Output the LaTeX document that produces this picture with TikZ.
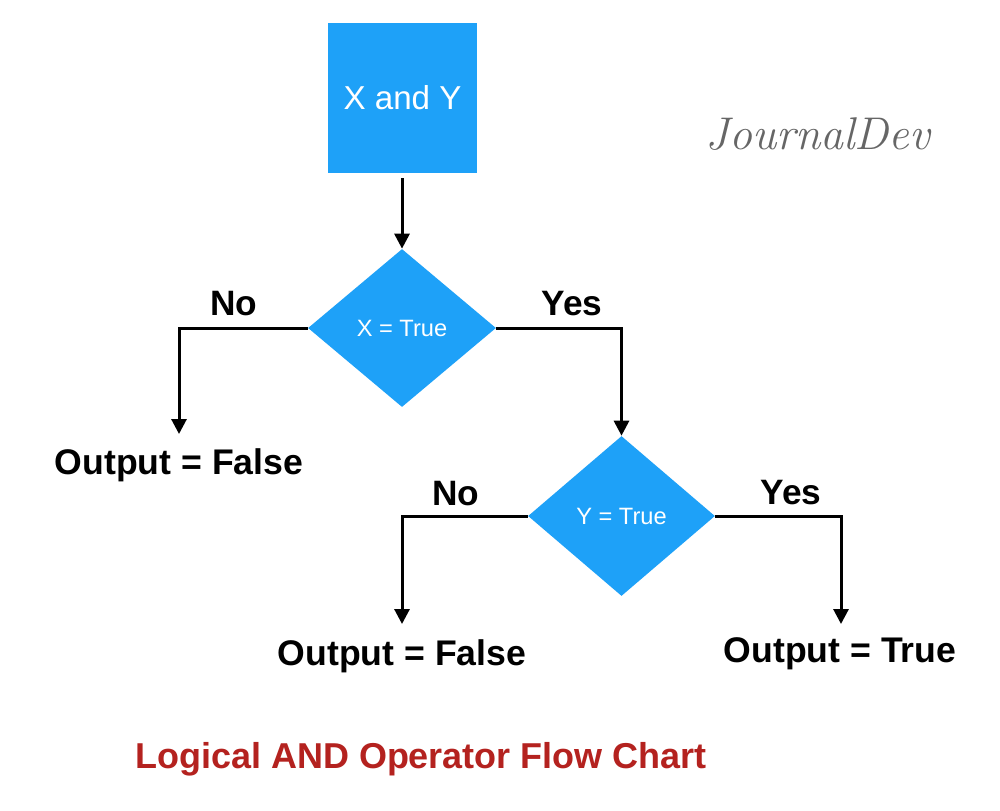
\documentclass[tikz,border=0pt]{standalone}
\usepackage{fontspec}
\setmainfont{Liberation Sans}
\newfontfamily\logofont{Latin Modern Roman}
\usetikzlibrary{shapes.geometric,arrows.meta}
\definecolor{boxblue}{HTML}{1EA1F8}
\definecolor{titlered}{HTML}{B4221F}
\begin{document}
\begin{tikzpicture}[x=0.567pt,y=-0.567pt,
  conn/.style={line width=1.7pt,line join=miter},
  arr/.style={conn,-{Triangle[width=8.5pt,length=8.5pt]}},
  dec/.style={diamond,fill=boxblue,text=white,inner sep=0pt,font=\fontsize{13.4}{15}\selectfont},
  lbl/.style={font=\bfseries\fontsize{20}{24}\selectfont,inner sep=0pt},
  outp/.style={font=\bfseries\fontsize{20.2}{24}\selectfont,inner sep=0pt}]
\useasboundingbox (0,0) rectangle (1000,810);
\fill[white] (0,0) rectangle (1000,810);
\node[fill=boxblue,text=white,minimum width=84.5pt,minimum height=85pt,inner sep=0pt,
  font=\fontsize{18.8}{22}\selectfont] (start) at (402.5,98) {\raisebox{-1.5pt}{X and Y}};
\node[dec,minimum width=106.6pt,minimum height=89.6pt] (d1) at (402,328) {X = True};
\node[dec,minimum width=106pt,minimum height=90.7pt] (d2) at (621.5,516) {Y = True};
\node[outp] (o1) at (179,465) {Output = False};
\node[outp] (o2) at (402,656) {Output = False};
\node[outp] (o3) at (840,654) {Output = True};
\node[lbl] (no1) at (234,304) {No};
\node[lbl] (yes1) at (572,304) {Yes};
\node[lbl] (no2) at (456,494) {No};
\node[lbl] (yes2) at (791,493) {Yes};
\node[font=\bfseries\fontsize{20.4}{24}\selectfont,text=titlered,inner sep=0pt] (title) at (421,759) {Logical AND Operator Flow Chart};
\node[font=\logofont\itshape\fontsize{26}{30}\selectfont,text=black!60,inner sep=0pt] (logo) at (818,134) {JournalDev};
\coordinate (s1) at (402,178);
\coordinate (t1) at (179,434);
\coordinate (t2) at (402,624);
\coordinate (t3) at (841,624);
\draw[arr] (s1) -- (d1.north);
\draw[arr] (d1.west) -| (t1);
\draw[arr] (d1.east) -| (d2.north);
\draw[arr] (d2.west) -| (t2);
\draw[arr] (d2.east) -| (t3);
\end{tikzpicture}
\end{document}
